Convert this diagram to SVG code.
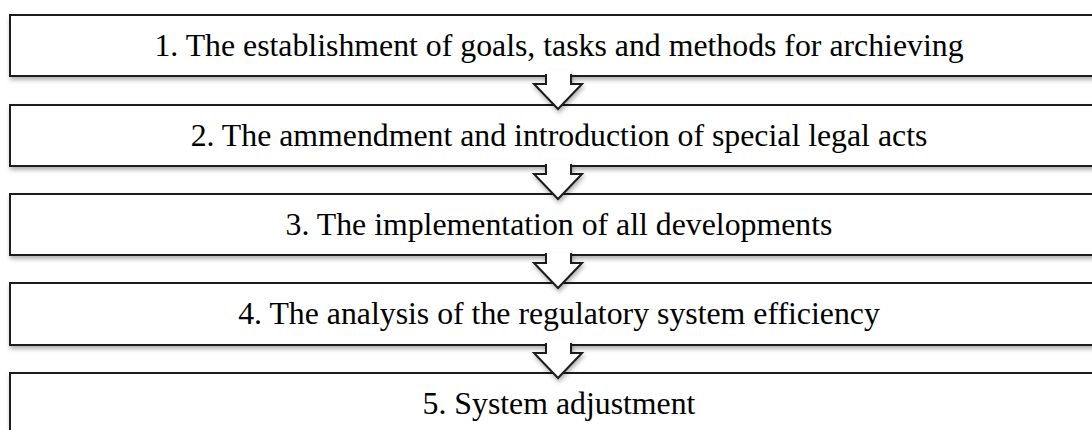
<svg xmlns="http://www.w3.org/2000/svg" width="1092" height="430" viewBox="0 0 1092 430">
<defs>
<filter id="sh" x="-5%" y="-20%" width="115%" height="160%">
<feDropShadow dx="1" dy="3" stdDeviation="2" flood-color="#000" flood-opacity="0.3"/>
</filter>
<g id="arrowShape">
<polygon points="546,70 546,84 534,84 558,109 582,84 571,84 571,70" fill="#fff" stroke="none"/>
<polyline points="546,74 546,84 534,84 558,109 582,84 571,84 571,74" fill="none" stroke="#1a1a1a" stroke-width="2" stroke-linejoin="miter"/>
</g>
</defs>
<style>
.box{fill:#fff;stroke:#1a1a1a;stroke-width:2;filter:url(#sh)}
.lbl{font-family:"Liberation Serif","Times New Roman",serif;font-size:31.8px;fill:#000;text-anchor:middle}
.arr{filter:url(#sh)}
</style>
<rect width="1092" height="430" fill="#fff"/>
<g id="node1"><rect class="box" x="10" y="15" width="1100" height="61"/><text class="lbl" x="559" y="56">1. The establishment of goals, tasks and methods for archieving</text></g>
<g id="node2"><rect class="box" x="10" y="105" width="1100" height="61"/><text class="lbl" x="559" y="146">2. The ammendment and introduction of special legal acts</text></g>
<g id="node3"><rect class="box" x="10" y="194" width="1100" height="61"/><text class="lbl" x="559" y="235">3. The implementation of all developments</text></g>
<g id="node4"><rect class="box" x="10" y="283" width="1100" height="62"/><text class="lbl" x="559" y="324">4. The analysis of the regulatory system efficiency</text></g>
<g id="node5"><rect class="box" x="10" y="373" width="1100" height="70"/><text class="lbl" x="559" y="414">5. System adjustment</text></g>
<g id="connectors">
<use href="#arrowShape" class="arr"/>
<use href="#arrowShape" class="arr" transform="translate(0,90)"/>
<use href="#arrowShape" class="arr" transform="translate(0,179)"/>
<use href="#arrowShape" class="arr" transform="translate(0,269)"/>
</g>
</svg>
